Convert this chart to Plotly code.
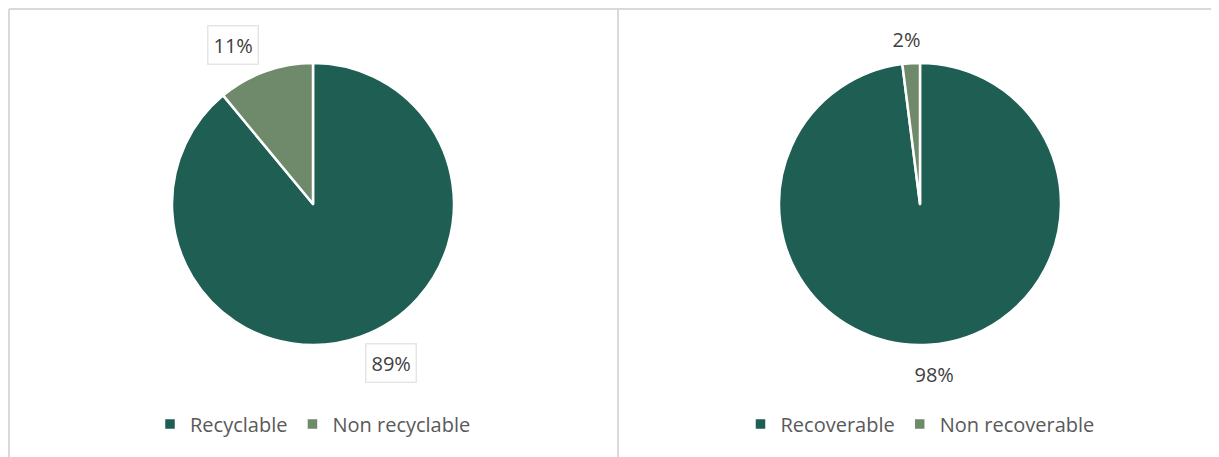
import plotly.graph_objects as go

# ---- data ----
left_labels = ["Recyclable", "Non recyclable"]
left_values = [89, 11]
right_labels = ["Recoverable", "Non recoverable"]
right_values = [98, 2]

DARK = "#1F5E53"
LIGHT = "#6E8A6A"
SW, SH = 1219, 457      # screen size
OFF = 8                  # page body margin
W, H = SW - OFF, SH - OFF
FONT = "Open Sans, Lato, sans-serif"

fig = go.Figure()

def px_x(x):
    return (x - OFF) / W

def px_y(y):
    return 1 - (y - OFF) / H

pies = [
    (left_labels, left_values, (313, 204, 141), "legend"),
    (right_labels, right_values, (920, 204, 141), "legend2"),
]
for labels, values, (cx, cy, r), lg in pies:
    fig.add_trace(go.Pie(
        labels=labels, values=values, sort=False, direction="clockwise",
        rotation=0, textinfo="none", hoverinfo="label+percent",
        marker=dict(colors=[DARK, LIGHT], line=dict(color="white", width=2.5)),
        domain=dict(x=[px_x(cx - r), px_x(cx + r)], y=[px_y(cy + r), px_y(cy - r)]),
        legend=lg, showlegend=True,
    ))

# data labels (screen position, boxed or not)
label_pos = [
    ((391, 363), True), ((233, 45), True),
    ((934, 374), False), ((906, 39), False),
]
all_vals = [left_values, right_values]
k = 0
for vals in all_vals:
    tot = sum(vals)
    for v in vals:
        (x, y), boxed = label_pos[k]
        k += 1
        fig.add_annotation(
            x=px_x(x), y=px_y(y), xref="paper", yref="paper",
            xanchor="center", yanchor="middle",
            text=f"{round(100 * v / tot)}%", showarrow=False,
            font=dict(family=FONT, size=20, color="#404040"),
            bordercolor="#E6E6E6" if boxed else "rgba(0,0,0,0)",
            borderwidth=1.5, borderpad=5,
            bgcolor="white" if boxed else "rgba(0,0,0,0)",
        )

# frame lines (top/left as close to the page edge as the figure allows)
line = dict(color="#D9D9D9", width=2)
fig.add_shape(type="line", xref="paper", yref="paper", x0=px_x(9), x1=1, y0=px_y(9), y1=px_y(9), line=line)
fig.add_shape(type="line", xref="paper", yref="paper", x0=px_x(9), x1=px_x(9), y0=px_y(9), y1=0, line=line)
fig.add_shape(type="line", xref="paper", yref="paper", x0=px_x(618), x1=px_x(618), y0=px_y(9), y1=0, line=line)

legfont = dict(family=FONT, size=20, color="#595959")
fig.update_layout(
    width=W, height=H, margin=dict(l=0, r=0, t=0, b=0),
    paper_bgcolor="white", plot_bgcolor="white",
    legend=dict(orientation="h", x=px_x(313), y=px_y(424), xanchor="center", yanchor="middle",
                font=legfont, itemclick=False, itemdoubleclick=False, traceorder="normal"),
    legend2=dict(orientation="h", x=px_x(920), y=px_y(424), xanchor="center", yanchor="middle",
                 font=legfont, itemclick=False, itemdoubleclick=False, traceorder="normal"),
)

fig.write_html("out.html")
